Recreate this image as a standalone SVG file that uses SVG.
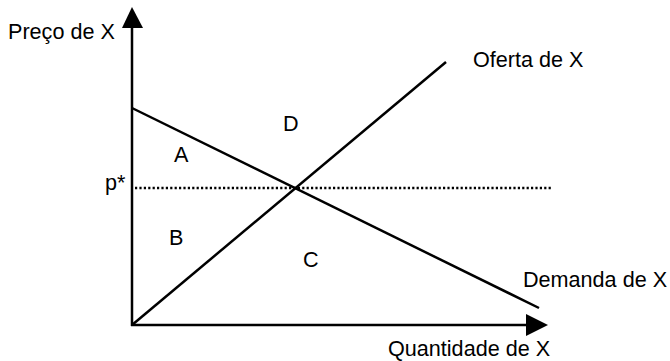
<svg xmlns="http://www.w3.org/2000/svg" width="670" height="361" viewBox="0 0 670 361">
<style>
.ln{stroke:#000;stroke-width:2.5;fill:none}
.dot{stroke:#000;stroke-width:2.5;stroke-dasharray:2.2 2.2;fill:none}
.t{font-family:"Liberation Sans",Arial,sans-serif;font-size:21.6px;fill:#000}
</style>
<rect width="670" height="361" fill="#fff"/>
<g id="axes">
<line class="ln" x1="132" y1="326" x2="132" y2="24"/>
<polygon points="132,7 122,28 143,28" fill="#000"/>
<line class="ln" x1="131" y1="325" x2="530" y2="325"/>
<polygon points="548,325 526,314 526,336" fill="#000"/>
</g>
<g id="connectors">
<line class="ln" x1="132" y1="325" x2="446" y2="62"/>
<line class="ln" x1="132" y1="108" x2="539" y2="308"/>
<line class="dot" x1="135" y1="188" x2="551" y2="188"/>
</g>
<g id="labels">
<text class="t" x="8" y="39">Preço de X</text>
<text class="t" x="473" y="67">Oferta de X</text>
<text class="t" x="523" y="287">Demanda de X</text>
<text class="t" x="388" y="356">Quantidade de X</text>
<text class="t" x="105" y="190">p*</text>
<text class="t" x="174" y="162">A</text>
<text class="t" x="283" y="131">D</text>
<text class="t" x="169" y="245">B</text>
<text class="t" x="303" y="267">C</text>
</g>
</svg>
